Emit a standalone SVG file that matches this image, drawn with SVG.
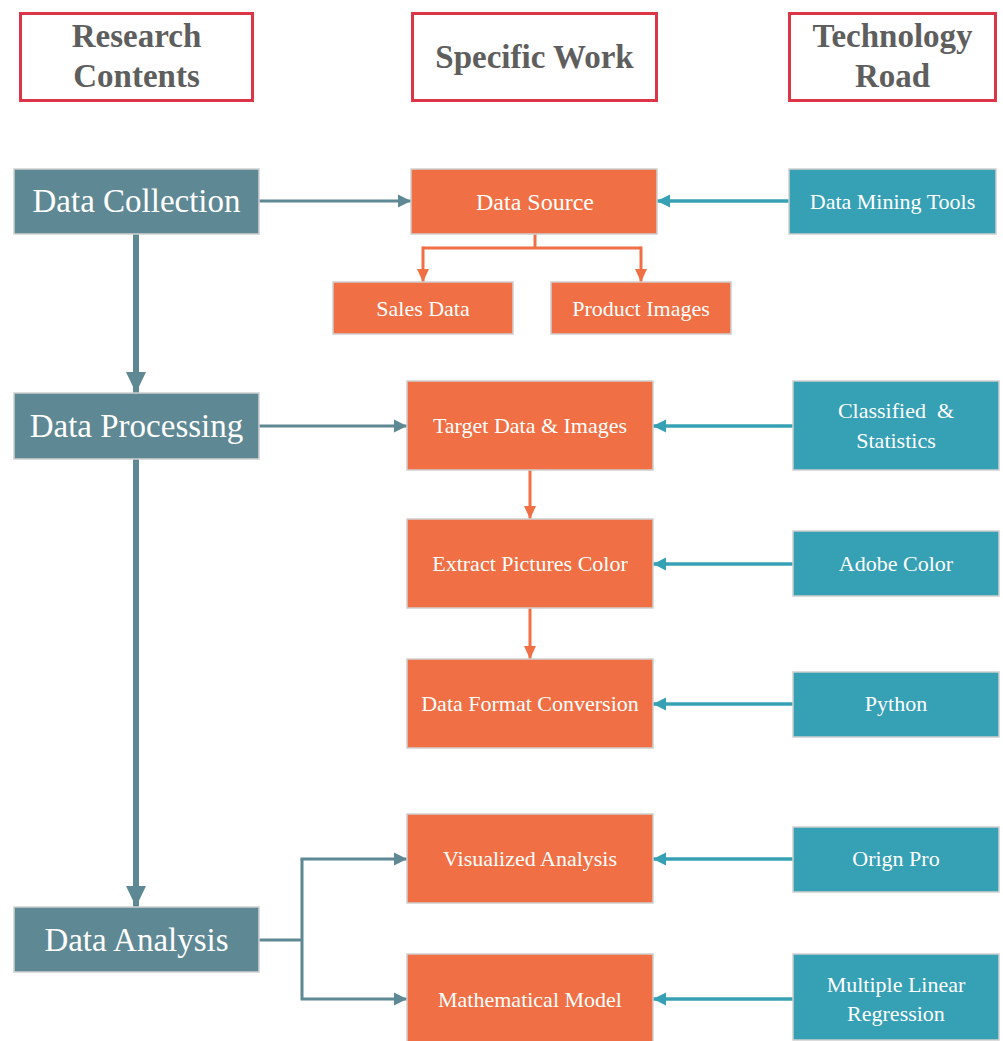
<svg xmlns="http://www.w3.org/2000/svg" width="1003" height="1041" viewBox="0 0 1003 1041">
<defs>
<style>
.hdr{fill:#fff;stroke:#DC3548;stroke-width:3}
.ht{font-family:"Liberation Serif","Times New Roman",serif;font-weight:bold;font-size:33px;fill:#5E5E5E;text-anchor:middle}
.rc{fill:#5E8893;stroke:#D0D0D0;stroke-width:1.5}
.sw{fill:#F06F44;stroke:#D0D0D0;stroke-width:1.5}
.tr{fill:#36A0B5;stroke:#D0D0D0;stroke-width:1.5}
.big{font-family:"Liberation Serif","Times New Roman",serif;font-size:33px;fill:#fff;text-anchor:middle}
.t{font-family:"Liberation Serif","Times New Roman",serif;font-size:22px;fill:#fff;text-anchor:middle}
.lg{stroke:#5E8893;stroke-width:3;fill:none}
.lgb{stroke:#5E8893;stroke-width:6;fill:none}
.lo{stroke:#F06F44;stroke-width:3;fill:none}
.lt{stroke:#36A0B5;stroke-width:3.5;fill:none}
</style>
<marker id="ag" markerUnits="userSpaceOnUse" markerWidth="14" markerHeight="14" refX="13" refY="7" orient="auto"><path d="M0,0.5 L13,7 L0,13.5 Z" fill="#5E8893"/></marker>
<marker id="agb" markerUnits="userSpaceOnUse" markerWidth="22" markerHeight="20" refX="21" refY="10" orient="auto"><path d="M0,0 L21,10 L0,20 Z" fill="#5E8893"/></marker>
<marker id="ao" markerUnits="userSpaceOnUse" markerWidth="14" markerHeight="14" refX="13" refY="7" orient="auto"><path d="M0,1 L13,7 L0,13 Z" fill="#F06F44"/></marker>
<marker id="at" markerUnits="userSpaceOnUse" markerWidth="14" markerHeight="14" refX="13" refY="7" orient="auto"><path d="M0,0.5 L13,7 L0,13.5 Z" fill="#36A0B5"/></marker>
</defs>
<rect width="1003" height="1041" fill="#fff"/>

<g id="connectors">
<path class="lg" d="M259,201 H411" marker-end="url(#ag)"/>
<path class="lt" d="M789,201 H657" marker-end="url(#at)"/>
<path class="lgb" d="M136,234 V393" marker-end="url(#agb)"/>
<path class="lgb" d="M136,459 V907" marker-end="url(#agb)"/>
<path class="lo" d="M535,234 V248"/>
<path class="lo" d="M423,248 H641"/>
<path class="lo" d="M423,246.5 V282" marker-end="url(#ao)"/>
<path class="lo" d="M641,246.5 V282" marker-end="url(#ao)"/>
<path class="lg" d="M259,426 H407" marker-end="url(#ag)"/>
<path class="lt" d="M793,426 H653" marker-end="url(#at)"/>
<path class="lo" d="M530,470 V519" marker-end="url(#ao)"/>
<path class="lo" d="M530,608 V659" marker-end="url(#ao)"/>
<path class="lt" d="M793,564 H653" marker-end="url(#at)"/>
<path class="lt" d="M793,704 H653" marker-end="url(#at)"/>
<path class="lg" d="M259,940 H302"/>
<path class="lg" d="M302,859 V999 H407" marker-end="url(#ag)"/>
<path class="lg" d="M300.5,859 H407" marker-end="url(#ag)"/>
<path class="lt" d="M793,859 H653" marker-end="url(#at)"/>
<path class="lt" d="M793,999 H653" marker-end="url(#at)"/>
</g>

<g id="hdr-research"><rect class="hdr" x="20.5" y="13.5" width="232" height="87"/><text class="ht" x="136.5" y="47">Research</text><text class="ht" x="136.5" y="87">Contents</text></g>
<g id="hdr-specific"><rect class="hdr" x="412.5" y="13.5" width="244" height="87"/><text class="ht" x="534.5" y="68">Specific Work</text></g>
<g id="hdr-tech"><rect class="hdr" x="789.5" y="13.5" width="206" height="87"/><text class="ht" x="892.5" y="47">Technology</text><text class="ht" x="892.5" y="87">Road</text></g>

<g id="data-collection"><rect class="rc" x="14" y="169" width="245" height="65"/><text class="big" x="136.5" y="212">Data Collection</text></g>
<g id="data-processing"><rect class="rc" x="14" y="393" width="245" height="66"/><text class="big" x="136.5" y="437">Data Processing</text></g>
<g id="data-analysis"><rect class="rc" x="14" y="907" width="245" height="65"/><text class="big" x="136.5" y="951">Data Analysis</text></g>

<g id="data-source"><rect class="sw" x="411" y="169" width="246" height="65"/><text class="t" x="535" y="210" style="font-size:24px">Data Source</text></g>
<g id="sales-data"><rect class="sw" x="333" y="282" width="180" height="52"/><text class="t" x="423" y="316">Sales Data</text></g>
<g id="product-images"><rect class="sw" x="551" y="282" width="180" height="52"/><text class="t" x="641" y="316">Product Images</text></g>
<g id="target-data"><rect class="sw" x="407" y="381" width="246" height="89"/><text class="t" x="530" y="433">Target Data &amp; Images</text></g>
<g id="extract-color"><rect class="sw" x="407" y="519" width="246" height="89"/><text class="t" x="530" y="571">Extract Pictures Color</text></g>
<g id="format-conversion"><rect class="sw" x="407" y="659" width="246" height="89"/><text class="t" x="530" y="711">Data Format Conversion</text></g>
<g id="visualized-analysis"><rect class="sw" x="407" y="814" width="246" height="89"/><text class="t" x="530" y="866">Visualized Analysis</text></g>
<g id="math-model"><rect class="sw" x="407" y="954" width="246" height="92"/><text class="t" x="530" y="1007">Mathematical Model</text></g>

<g id="data-mining-tools"><rect class="tr" x="789" y="169" width="207" height="65"/><text class="t" x="892.5" y="209">Data Mining Tools</text></g>
<g id="classified-statistics"><rect class="tr" x="793" y="381" width="206" height="89"/><text class="t" x="896" y="418" xml:space="preserve">Classified  &amp;</text><text class="t" x="896" y="448">Statistics</text></g>
<g id="adobe-color"><rect class="tr" x="793" y="531" width="206" height="65"/><text class="t" x="896" y="571">Adobe Color</text></g>
<g id="python"><rect class="tr" x="793" y="672" width="206" height="65"/><text class="t" x="896" y="711">Python</text></g>
<g id="orign-pro"><rect class="tr" x="793" y="827" width="206" height="65"/><text class="t" x="896" y="866">Orign Pro</text></g>
<g id="mlr"><rect class="tr" x="793" y="954" width="206" height="86"/><text class="t" x="896" y="992">Multiple Linear</text><text class="t" x="896" y="1021">Regression</text></g>
</svg>
